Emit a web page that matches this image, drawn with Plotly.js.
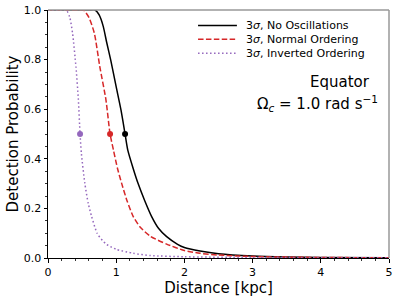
<!DOCTYPE html>
<html>
<head>
<meta charset="utf-8">
<script src="https://cdn.plot.ly/plotly-3.0.1.min.js"></script>
<style>html,body{margin:0;padding:0;background:#fff;}#chart{width:398px;height:300px;}</style>
</head>
<body>
<div id="chart"></div>
<script>
// Series names
const seriesNames = ["3<i>σ</i>, No Oscillations", "3<i>σ</i>, Normal Ordering", "3<i>σ</i>, Inverted Ordering"];

// No oscillations (black)
const noOscX = [0, 0.6, 0.69, 0.75, 0.81, 0.86, 0.92, 1.0, 1.07, 1.13, 1.17, 1.25, 1.32, 1.42, 1.52, 1.62, 1.74, 1.9, 2.0, 2.23, 2.5, 3.0, 3.5, 4.0, 5.0];
const noOscY = [1, 1, 1, 0.98, 0.934, 0.87, 0.798, 0.69, 0.597, 0.5, 0.435, 0.36, 0.301, 0.23, 0.167, 0.12, 0.086, 0.055, 0.042, 0.028, 0.017, 0.008, 0.004, 0.002, 0.001];

// Normal ordering (red)
const normalX = [0, 0.45, 0.52, 0.6, 0.68, 0.76, 0.85, 0.91, 0.96, 1.02, 1.08, 1.16, 1.25, 1.35, 1.5, 1.74, 2.0, 2.23, 2.5, 3.0, 4.0, 5.0];
const normalY = [1, 1, 1, 0.97, 0.906, 0.771, 0.637, 0.5, 0.435, 0.36, 0.301, 0.23, 0.167, 0.125, 0.088, 0.056, 0.03, 0.019, 0.012, 0.006, 0.002, 0.001];

// Inverted ordering (purple)
const invertedX = [0, 0.22, 0.27, 0.32, 0.36, 0.41, 0.445, 0.47, 0.49, 0.54, 0.59, 0.64, 0.72, 0.8, 0.86, 1.0, 1.25, 1.5, 2.0, 3.0, 5.0];
const invertedY = [1, 1, 1, 0.97, 0.906, 0.771, 0.64, 0.5, 0.42, 0.301, 0.22, 0.167, 0.1, 0.07, 0.055, 0.035, 0.019, 0.01, 0.005, 0.002, 0.001];

// 50% detection markers
const markerX = [1.13, 0.91, 0.47];
const markerY = [0.5, 0.5, 0.5];

const colors = ["#000000", "#d62728", "#9467bd"];
const dashes = ["solid", "5.5px,2.4px", "1.5px,2.5px"];

const xs = [noOscX, normalX, invertedX];
const ys = [noOscY, normalY, invertedY];

const traces = [];
for (let i = 0; i < 3; i++) {
  traces.push({
    x: xs[i], y: ys[i], type: "scatter", mode: "lines",
    name: seriesNames[i], showlegend: false,
    line: {color: colors[i], dash: dashes[i], width: 1.5, shape: "spline", smoothing: 0.6}
  });
}
for (let i = 0; i < 3; i++) {
  traces.push({
    x: [markerX[i]], y: [markerY[i]], type: "scatter", mode: "markers",
    showlegend: false,
    marker: {color: colors[i], size: 6}
  });
}

const font = "DejaVu Sans";

// Manual legend (compact row spacing like the reference)
const legRowsY = [0.937, 0.882, 0.826];
const legShapes = [];
const legAnns = [];
for (let i = 0; i < 3; i++) {
  legShapes.push({type: "line", xref: "paper", yref: "paper", x0: 0.44, x1: 0.554, y0: legRowsY[i], y1: legRowsY[i],
    line: {color: colors[i], width: 1.5, dash: dashes[i]}});
  legAnns.push({xref: "paper", yref: "paper", x: 0.575, y: legRowsY[i], xanchor: "left", yanchor: "middle",
    showarrow: false, text: seriesNames[i], font: {family: font, size: 11, color: "#000"}});
}

const layout = {
  width: 398, height: 300,
  margin: {l: 48, r: 9, t: 10, b: 42},
  paper_bgcolor: "#fff", plot_bgcolor: "#fff",
  font: {family: font, color: "#000", size: 11},
  showlegend: false,
  xaxis: {
    range: [0, 5], dtick: 1, tick0: 0,
    showgrid: false, zeroline: false,
    showline: true, linecolor: "#000", linewidth: 1,
    ticks: "outside", ticklen: 3.5, tickwidth: 1, tickcolor: "#000",
    tickfont: {family: font, size: 11},
    minor: {dtick: 0.2, ticks: "outside", ticklen: 2, tickcolor: "#000", tickwidth: 0.8},
    title: {text: "Distance [kpc]", font: {family: font, size: 15}, standoff: 0}
  },
  yaxis: {
    range: [0, 1], dtick: 0.2, tick0: 0, tickformat: ".1f",
    showgrid: false, zeroline: false,
    showline: true, linecolor: "#000", linewidth: 1,
    ticks: "outside", ticklen: 3.5, tickwidth: 1, tickcolor: "#000",
    tickfont: {family: font, size: 11},
    minor: {dtick: 0.05, ticks: "outside", ticklen: 2, tickcolor: "#000", tickwidth: 0.8},
    title: {text: "Detection Probability", font: {family: font, size: 15}, standoff: 1}
  },
  shapes: [
    {type: "line", xref: "paper", yref: "paper", x0: 0, x1: 1, y0: 1, y1: 1, line: {color: "#999", width: 1.5}},
    {type: "line", xref: "paper", yref: "paper", x0: 1, x1: 1, y0: 0, y1: 1, line: {color: "#999", width: 1.5}}
  ].concat(legShapes),
  annotations: [
    {xref: "paper", yref: "paper", x: 0.95, y: 0.71, xanchor: "right", yanchor: "middle", showarrow: false,
     text: "Equator", font: {family: font, size: 15, color: "#000"}},
    {xref: "paper", yref: "paper", x: 0.975, y: 0.625, xanchor: "right", yanchor: "middle", showarrow: false,
     text: "Ω<sub><i>c</i></sub> = 1.0 rad s<sup>−1</sup>", font: {family: font, size: 15, color: "#000"}}
  ].concat(legAnns)
};

Plotly.newPlot("chart", traces, layout, {displayModeBar: false, staticPlot: true});
</script>
</body>
</html>
